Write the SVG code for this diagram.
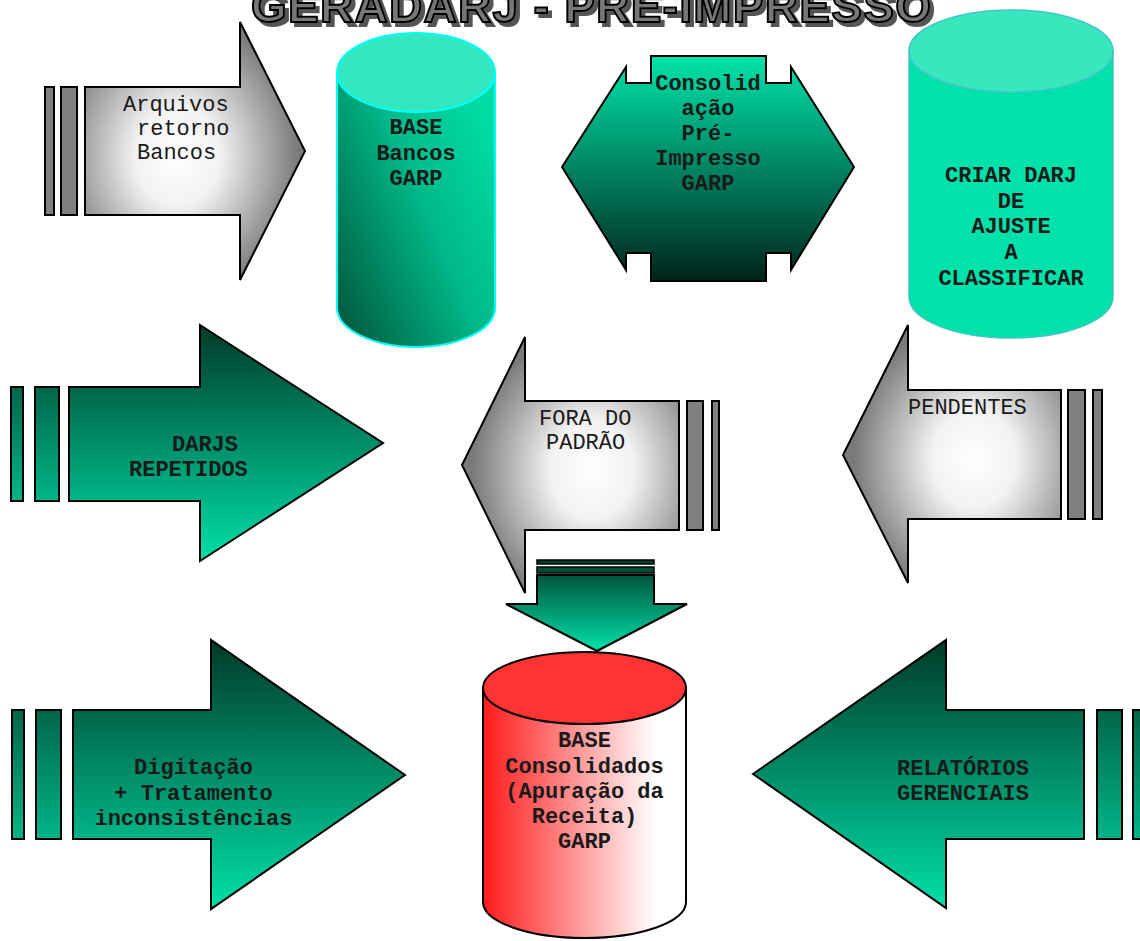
<svg xmlns="http://www.w3.org/2000/svg" width="1140" height="941" viewBox="0 0 1140 941">
<style>
  .t { font-family: "Liberation Mono", "Courier New", monospace; font-size: 22px; fill: #1a1a1a; }
  .b { font-weight: bold; }
  .c { text-anchor: middle; }
  .ol { stroke: #000; stroke-width: 2; stroke-linejoin: miter; }
  .bar { fill: #808080; stroke: #000; stroke-width: 2; }
  .title { font-family: "Liberation Sans", Arial, sans-serif; font-weight: bold; font-size: 46px; }
</style>
<defs>
  <filter id="shadow" x="-5%" y="-50%" width="110%" height="200%">
    <feOffset in="SourceAlpha" dx="4" dy="4" result="off"/>
    <feFlood flood-color="#555555"/>
    <feComposite in2="off" operator="in" result="sh"/>
    <feMerge><feMergeNode in="sh"/><feMergeNode in="SourceGraphic"/></feMerge>
  </filter>
  <radialGradient id="grayR" cx="0.42" cy="0.52" r="0.55">
    <stop offset="0" stop-color="#ffffff"/>
    <stop offset="0.35" stop-color="#f2f2f2"/>
    <stop offset="1" stop-color="#7a7a7a"/>
  </radialGradient>
  <radialGradient id="grayL" cx="0.6" cy="0.52" r="0.55">
    <stop offset="0" stop-color="#ffffff"/>
    <stop offset="0.35" stop-color="#f2f2f2"/>
    <stop offset="1" stop-color="#7a7a7a"/>
  </radialGradient>
  <linearGradient id="gDarjs" gradientUnits="userSpaceOnUse" x1="0" y1="325" x2="0" y2="561">
    <stop offset="0" stop-color="#003a28"/><stop offset="1" stop-color="#00e0a8"/>
  </linearGradient>
  <linearGradient id="gDig" gradientUnits="userSpaceOnUse" x1="0" y1="640" x2="0" y2="909">
    <stop offset="0" stop-color="#003a28"/><stop offset="1" stop-color="#00e0a8"/>
  </linearGradient>
  <linearGradient id="gRel" gradientUnits="userSpaceOnUse" x1="0" y1="640" x2="0" y2="908">
    <stop offset="0" stop-color="#003a28"/><stop offset="1" stop-color="#00e0a8"/>
  </linearGradient>
  <linearGradient id="gDown" gradientUnits="userSpaceOnUse" x1="0" y1="560" x2="0" y2="650">
    <stop offset="0" stop-color="#003a28"/><stop offset="1" stop-color="#00e0a8"/>
  </linearGradient>
  <linearGradient id="gHex" gradientUnits="userSpaceOnUse" x1="0" y1="56" x2="0" y2="281">
    <stop offset="0" stop-color="#00e4aa"/><stop offset="1" stop-color="#00241a"/>
  </linearGradient>
  <linearGradient id="gCyl1" x1="0" y1="1" x2="1" y2="0.25">
    <stop offset="0" stop-color="#005238"/><stop offset="0.6" stop-color="#00b888"/><stop offset="1" stop-color="#00dca4"/>
  </linearGradient>
  <linearGradient id="gRed" x1="0" y1="0" x2="1" y2="0">
    <stop offset="0" stop-color="#ff1a1a"/><stop offset="0.85" stop-color="#ffffff"/><stop offset="1" stop-color="#ffffff"/>
  </linearGradient>
</defs>

<g id="title" filter="url(#shadow)">
  <text class="title" x="251" y="22" fill="#777" stroke="#000" stroke-width="2" textLength="680" lengthAdjust="spacing">GERADARJ - PRÉ-IMPRESSO</text>
</g>

<g id="connectors">
  <g id="arrow-arquivos">
    <rect class="bar" x="45" y="87" width="9" height="128"/>
    <rect class="bar" x="61" y="87" width="16" height="128"/>
    <polygon class="ol" fill="url(#grayR)" points="85,87 240,87 240,22 305,151 240,280 240,215 85,215"/>
    <text class="t" x="123" y="111">Arquivos</text>
    <text class="t" x="137" y="135">retorno</text>
    <text class="t" x="137" y="159">Bancos</text>
  </g>
  <g id="arrow-darjs">
    <rect class="ol" fill="url(#gDarjs)" x="11" y="387" width="12" height="114"/>
    <rect class="ol" fill="url(#gDarjs)" x="35" y="387" width="24" height="114"/>
    <polygon class="ol" fill="url(#gDarjs)" points="69,387 200,387 200,325 383,443 200,561 200,501 69,501"/>
    <text class="t b" x="172" y="451">DARJS</text>
    <text class="t b" x="129" y="476">REPETIDOS</text>
  </g>
  <g id="arrow-fora">
    <rect class="bar" x="687" y="401" width="16" height="129"/>
    <rect class="bar" x="712" y="401" width="7" height="129"/>
    <polygon class="ol" fill="url(#grayL)" points="679,401 525,401 525,337 462,465 525,593 525,530 679,530"/>
    <text class="t" x="539" y="425">FORA DO</text>
    <text class="t" x="546" y="449">PADRÃO</text>
  </g>
  <g id="arrow-pendentes">
    <rect class="bar" x="1068" y="390" width="17" height="129"/>
    <rect class="bar" x="1093" y="390" width="9" height="129"/>
    <polygon class="ol" fill="url(#grayL)" points="1061,390 908,390 908,325 843,455 908,583 908,519 1061,519"/>
    <text class="t" x="908" y="414">PENDENTES</text>
  </g>
  <g id="arrow-down">
    <rect fill="url(#gDown)" stroke="#000" stroke-width="1.5" x="537" y="560" width="117" height="4"/>
    <rect fill="url(#gDown)" stroke="#000" stroke-width="1.5" x="537" y="567" width="117" height="6"/>
    <polygon class="ol" fill="url(#gDown)" points="537,575 654,575 654,604 687,604 597,651 506,604 537,604"/>
  </g>
  <g id="arrow-digitacao">
    <rect class="ol" fill="url(#gDig)" x="12" y="710" width="12" height="129"/>
    <rect class="ol" fill="url(#gDig)" x="36" y="710" width="25" height="129"/>
    <polygon class="ol" fill="url(#gDig)" points="73,710 211,710 211,640 405,775 211,909 211,839 73,839"/>
    <text class="t b c" x="193.5" y="774">Digitação</text>
    <text class="t b c" x="193.5" y="800">+ Tratamento</text>
    <text class="t b c" x="193.5" y="825">inconsistências</text>
  </g>
  <g id="arrow-relatorios">
    <rect class="ol" fill="url(#gRel)" x="1097" y="710" width="25" height="129"/>
    <rect class="ol" fill="url(#gRel)" x="1133" y="710" width="25" height="129"/>
    <polygon class="ol" fill="url(#gRel)" points="1084,710 946,710 946,640 753,774 946,908 946,839 1084,839"/>
    <text class="t b" x="897" y="775">RELATÓRIOS</text>
    <text class="t b" x="897" y="800">GERENCIAIS</text>
  </g>
</g>

<g id="base-bancos">
  <path d="M337,72.5 L337,307.5 A79,39.5 0 0 0 495,307.5 L495,72.5 Z" fill="url(#gCyl1)" stroke="#00ffff" stroke-width="2"/>
  <ellipse cx="416" cy="72.5" rx="79" ry="39.5" fill="#33e8c0" stroke="#00ffff" stroke-width="2"/>
  <text class="t b c" x="416" y="134">BASE</text>
  <text class="t b c" x="416" y="160">Bancos</text>
  <text class="t b c" x="416" y="185">GARP</text>
</g>

<g id="consolidacao">
  <polygon class="ol" fill="url(#gHex)" points="562,167 626,67 626,83 651,83 651,56 766,56 766,83 791,83 791,67 854,167 791,270 791,253 766,253 766,281 651,281 651,253 626,253 626,270"/>
  <text class="t b c" x="708" y="90" fill="#222">Consolid</text>
  <text class="t b c" x="708" y="115" fill="#222">ação</text>
  <text class="t b c" x="708" y="140" fill="#222">Pré-</text>
  <text class="t b c" x="708" y="165" fill="#222">Impresso</text>
  <text class="t b c" x="708" y="190" fill="#222">GARP</text>
</g>

<g id="criar-darj">
  <path d="M909,51 L909,297 A102,41 0 0 0 1113,297 L1113,51 Z" fill="#00e2aa" stroke="#40c8c8" stroke-width="1.5"/>
  <ellipse cx="1011" cy="51" rx="102" ry="41" fill="#38e8bc" stroke="#40c8c8" stroke-width="1.5"/>
  <text class="t b c" x="1011" y="182">CRIAR DARJ</text>
  <text class="t b c" x="1011" y="208">DE</text>
  <text class="t b c" x="1011" y="233">AJUSTE</text>
  <text class="t b c" x="1011" y="259">A</text>
  <text class="t b c" x="1011" y="285">CLASSIFICAR</text>
</g>

<g id="base-consolidados">
  <path d="M483,688 L483,902 A101.5,36 0 0 0 686,902 L686,688 Z" fill="url(#gRed)" stroke="#000" stroke-width="2"/>
  <ellipse cx="584.5" cy="688" rx="101.5" ry="36" fill="#ff3333" stroke="#000" stroke-width="2"/>
  <text class="t b c" x="584.5" y="747">BASE</text>
  <text class="t b c" x="584.5" y="773">Consolidados</text>
  <text class="t b c" x="584.5" y="798">(Apuração da</text>
  <text class="t b c" x="584.5" y="823">Receita)</text>
  <text class="t b c" x="584.5" y="848">GARP</text>
</g>
</svg>
